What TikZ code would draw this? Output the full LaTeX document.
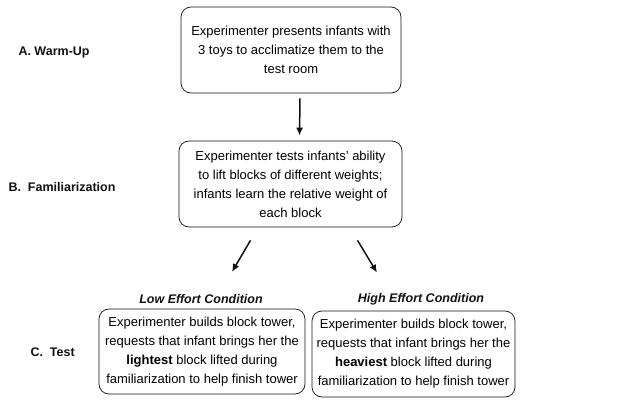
\documentclass[tikz,border=0pt]{standalone}
\usepackage{fontspec}
\setmainfont{Liberation Sans}
\usepackage{xcolor}
\usetikzlibrary{arrows.meta}
\definecolor{ink}{HTML}{111111}
\tikzset{
  stage/.style={draw=ink, line width=0.7pt, rounded corners=10pt, align=center,
    font=\fontsize{13}{19}\selectfont, inner sep=0pt},
  phase/.style={text=ink, font=\fontsize{12.5}{15}\selectfont\bfseries, anchor=west},
  cond/.style={text=ink, font=\fontsize{12.5}{15}\selectfont\bfseries\itshape},
  flow/.style={draw=ink, line width=1.5pt, -{Latex[length=8pt,width=7pt]}},
}

\begin{document}
\begin{tikzpicture}[x=1pt,y=-1pt]
  \useasboundingbox (0,0) rectangle (641,404);
  % boxes
  \node[stage, minimum width=220, minimum height=86] (warm) at (291,50)
    {Experimenter presents infants with\\ 3 toys to acclimatize them to the\\ test room};
  \node[stage, minimum width=223, minimum height=86] (fam) at (290.5,184)
    {Experimenter tests infants' ability\\ to lift blocks of different weights;\\ infants learn the relative weight of\\ each block};
  \node[stage, minimum width=206, minimum height=85] (low) at (202,351.5)
    {Experimenter builds block tower,\\ requests that infant brings her the\\ \textbf{lightest} block lifted during\\ familiarization to help finish tower};
  \node[stage, minimum width=203, minimum height=86] (high) at (413.5,354)
    {Experimenter builds block tower,\\ requests that infant brings her the\\ \textbf{heaviest} block lifted during\\ familiarization to help finish tower};
  % labels
  \node[phase] (lA) at (15,52) {A. Warm-Up};
  \node[phase] (lB) at (5,187) {B.\ \ Familiarization};
  \node[phase] (lC) at (27,352) {C.\ \ Test};
  \node[cond] (lowlab) at (201,299) {Low Effort Condition};
  \node[cond] (highlab) at (421,299) {High Effort Condition};
  % arrows
  \draw[flow] ([shift={(9,5)}]warm.south) -- ([shift={(9,-5)}]fam.north);
  \draw[flow] ([shift={(-40,13)}]fam.south) -- ([shift={(31,-19)}]lowlab.north);
  \draw[flow] ([shift={(67,13)}]fam.south) -- ([shift={(-44,-17)}]highlab.north);
\end{tikzpicture}
\end{document}
